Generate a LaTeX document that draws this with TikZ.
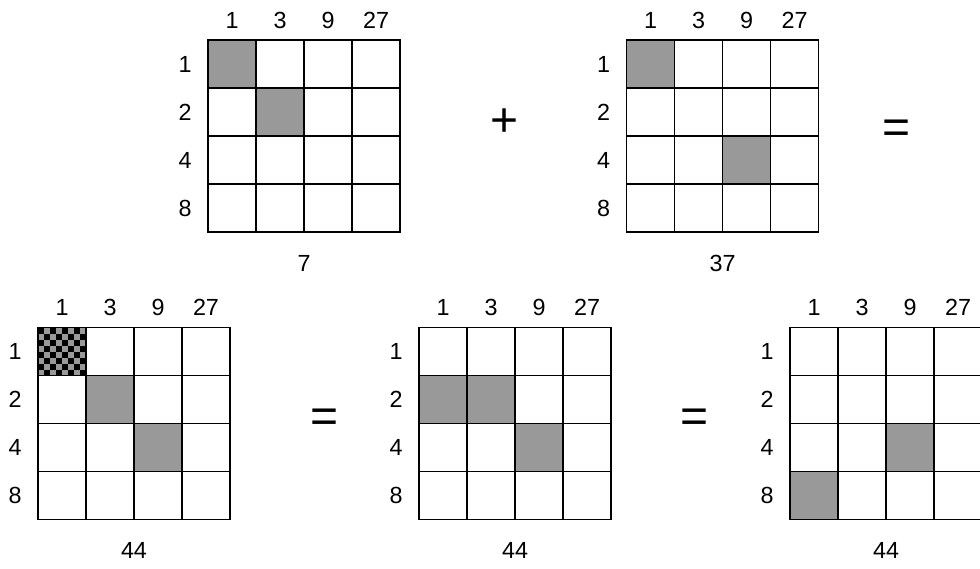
\documentclass[tikz,border=0pt]{standalone}
\usepackage{fontspec}
\setmainfont{Liberation Sans}
\usetikzlibrary{positioning}
\definecolor{ink}{HTML}{000000}
\definecolor{shade}{HTML}{999999}
\tikzset{
  lab/.style={font=\fontsize{17.5}{20}\selectfont,text=ink,inner sep=0pt},
  op/.style={font=\fontsize{36}{40}\selectfont,text=ink,inner sep=0pt},
  gridline/.style={draw=ink,line width=1.1pt},
  cell/.style={fill=shade},
}
% grid name, left, top, sum below
\newcommand{\bitgrid}[4]{%
  \foreach \c/\v in {0/1,1/3,2/9,3/27}
    \node[lab] (#1c\c) at ({#2+24+48*\c},{#3+20}) {\v};
  \foreach \r/\v in {0/1,1/2,2/4,3/8}
    \node[lab] (#1r\r) at ({#2-23},{#3-24-48*\r}) {\v};
  \foreach \i in {1,2,3} {
    \draw[gridline] ({#2+48*\i},#3) -- ++(0,-192);
    \draw[gridline] (#2,{#3-48*\i}) -- ++(192,0);
  }
  \draw[gridline] (#2,#3) rectangle ++(192,-192);
  \node[lab] (#1sum) at ({#2+96},{#3-223}) {#4};
}
% left, top, row, column
\newcommand{\shadecell}[4]{\fill[cell] ({#1+48*#4},{#2-48*#3}) rectangle ++(48,-48);}

\begin{document}
\begin{tikzpicture}[x=0.75pt,y=0.75pt]
  \useasboundingbox (0,0) rectangle (980,568);
  % top row
  \shadecell{208}{528}{0}{0}
  \shadecell{208}{528}{1}{1}
  \bitgrid{ga}{208}{528}{7}
  \shadecell{626.5}{528}{0}{0}
  \shadecell{626.5}{528}{2}{2}
  \bitgrid{gb}{626.5}{528}{37}
  \node[op] (plusop) at (505,445) {+};
  \node[op] (eqtop) at (896,436) {=};
  % bottom row
  \shadecell{38}{240.5}{0}{0}
  \foreach \i in {0,2,4,6}
    \foreach \j in {0,2,4,6} {
      \fill[ink] ({38+6*\i},{240.5-6*\j}) rectangle ++(6,-6);
      \fill[ink] ({38+6*\i+6},{240.5-6*\j-6}) rectangle ++(6,-6);
    }
  \shadecell{38}{240.5}{1}{1}
  \shadecell{38}{240.5}{2}{2}
  \bitgrid{gc}{38}{240.5}{44}
  \shadecell{419}{240.5}{1}{0}
  \shadecell{419}{240.5}{1}{1}
  \shadecell{419}{240.5}{2}{2}
  \bitgrid{gd}{419}{240.5}{44}
  \shadecell{790}{240.5}{2}{2}
  \shadecell{790}{240.5}{3}{0}
  \bitgrid{ge}{790}{240.5}{44}
  \node[op] (eqleft) at (325,147) {=};
  \node[op] (eqright) at (695,147) {=};
\end{tikzpicture}
\end{document}
